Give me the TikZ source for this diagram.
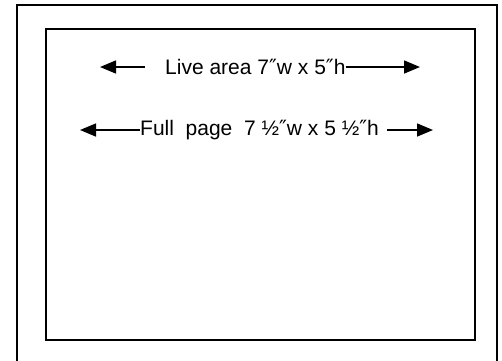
\documentclass[tikz,border=0pt]{standalone}
\usepackage{fontspec}
\setmainfont{Liberation Sans}
\newfontfamily\symf{DejaVu Sans}
\newcommand{\dprime}{{\symf\symbol{"2033}}}
\usetikzlibrary{arrows.meta}
\begin{document}
\begin{tikzpicture}[x=1pt,y=-1pt,
  frame/.style={line width=2pt,draw=black},
  arr/.style={line width=1.5pt,-{Triangle[length=16pt,width=13pt]}},
  lbl/.style={inner sep=0pt,anchor=west,font=\fontsize{21}{24}\selectfont}]
\useasboundingbox[fill=white] (0,0) rectangle (502,360);
\begin{scope}
\clip (0,0) rectangle (502,360);
\draw[frame] (17,5) rectangle (497,380);
\end{scope}
\draw[frame] (46,29) rectangle (475,340);
\node[lbl] (live) at (165,67) {Live area 7\dprime w x 5\dprime h};
\coordinate (l1) at (145,67);
\coordinate (l1t) at (100,67);
\coordinate (l2t) at (420,67);
\draw[arr] (l1) -- (l1t);
\draw[arr] (live.east) -- (l2t);
\node[lbl] (full) at (140,130) {Full\ \ page\ \ 7 ½\dprime w x 5 ½\dprime h};
\coordinate (f1t) at (80,130);
\coordinate (f2) at (387,130);
\coordinate (f2t) at (433,130);
\draw[arr] (full.west) -- (f1t);
\draw[arr] (f2) -- (f2t);
\end{tikzpicture}
\end{document}
